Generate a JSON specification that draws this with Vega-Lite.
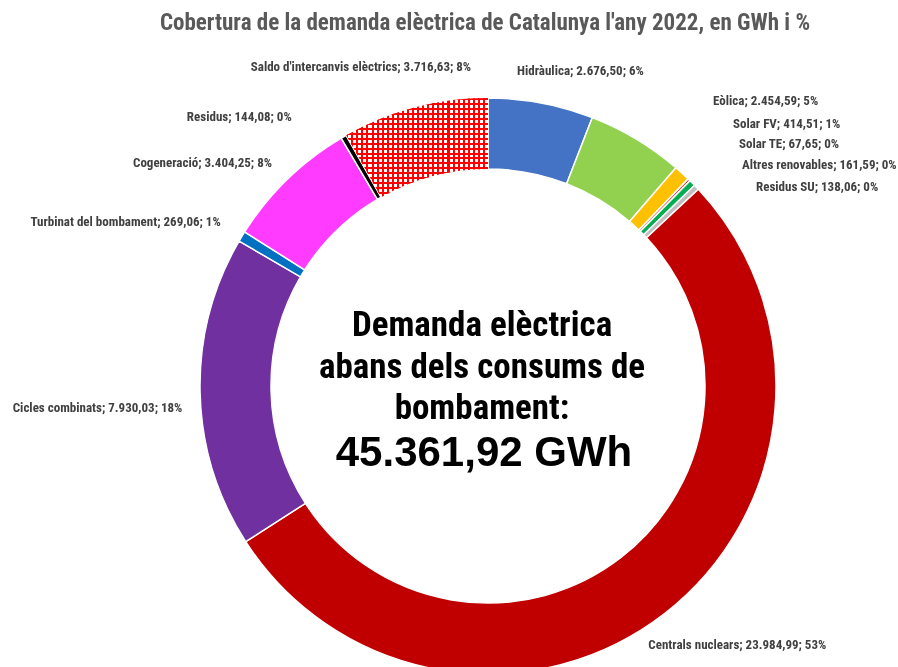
{
  "$schema": "https://vega.github.io/schema/vega-lite/v6.json",
  "autosize": {"type": "none"},
  "width": 600,
  "height": 560,
  "padding": {"left": 188, "top": 106, "right": 110, "bottom": 1},
  "background": "#ffffff",
  "title": {
    "text": "Cobertura de la demanda elèctrica de Catalunya l'any 2022, en GWh i %",
    "frame": "group",
    "offset": -3,
    "anchor": "middle",
    "dx": -3,
    "font": "Roboto Condensed, Roboto, sans-serif",
    "fontSize": 23,
    "fontWeight": "bold",
    "color": "#595959"
  },
  "config": {
    "view": {"stroke": null},
    "text": {
      "font": "Roboto Condensed, Roboto, sans-serif",
      "fontSize": 13,
      "fontWeight": "bold",
      "fill": "#404040",
      "baseline": "middle"
    }
  },
  "layer": [
    {
      "data": {
        "values": [
          {"n": 1, "source": "Hidràulica", "value": 2676.50, "label": "Hidràulica; 2.676,50; 6%"},
          {"n": 2, "source": "Eòlica", "value": 2454.59, "label": "Eòlica; 2.454,59; 5%"},
          {"n": 3, "source": "Solar FV", "value": 414.51, "label": "Solar FV; 414,51; 1%"},
          {"n": 4, "source": "Solar TE", "value": 67.65, "label": "Solar TE; 67,65; 0%"},
          {"n": 5, "source": "Altres renovables", "value": 161.59, "label": "Altres renovables; 161,59; 0%"},
          {"n": 6, "source": "Residus SU", "value": 138.06, "label": "Residus SU; 138,06; 0%"},
          {"n": 7, "source": "Centrals nuclears", "value": 23984.99, "label": "Centrals nuclears; 23.984,99; 53%"},
          {"n": 8, "source": "Cicles combinats", "value": 7930.03, "label": "Cicles combinats; 7.930,03; 18%"},
          {"n": 9, "source": "Turbinat del bombament", "value": 269.06, "label": "Turbinat del bombament; 269,06; 1%"},
          {"n": 10, "source": "Cogeneració", "value": 3404.25, "label": "Cogeneració; 3.404,25; 8%"},
          {"n": 11, "source": "Residus", "value": 144.08, "label": "Residus; 144,08; 0%"},
          {"n": 12, "source": "Saldo d'intercanvis elèctrics", "value": 3716.63, "label": "Saldo d'intercanvis elèctrics; 3.716,63; 8%"}
        ]
      },
      "encoding": {
        "theta": {"field": "value", "type": "quantitative", "stack": true},
        "order": {"field": "n", "type": "quantitative"}
      },
      "layer": [
        {
          "mark": {"type": "arc", "outerRadius": 288, "innerRadius": 217, "stroke": "#ffffff", "strokeWidth": 1.5},
          "encoding": {
            "color": {
              "field": "source",
              "type": "nominal",
              "legend": null,
              "scale": {
                "domain": ["Hidràulica", "Eòlica", "Solar FV", "Solar TE", "Altres renovables", "Residus SU", "Centrals nuclears", "Cicles combinats", "Turbinat del bombament", "Cogeneració", "Residus", "Saldo d'intercanvis elèctrics"],
                "range": ["#4472C4", "#92D050", "#FFC000", "#E8412C", "#00B050", "#BFBFBF", "#C00000", "#7030A0", "#0070C0", "#FF3BFF", "#000000", "#FFFFFF"]
              }
            }
          }
        },
        {
          "mark": {
            "type": "arc", "outerRadius": 288, "innerRadius": 217,
            "fill": {
              "gradient": "linear", "x1": 0, "y1": 0, "x2": 1, "y2": 0,
              "stops": [
                {"offset": 0, "color": "#ff0000"}, {"offset": 0.0143, "color": "#ff0000"}, {"offset": 0.0143, "color": "#ffffff"}, {"offset": 0.0357, "color": "#ffffff"},
                {"offset": 0.0357, "color": "#ff0000"}, {"offset": 0.05, "color": "#ff0000"}, {"offset": 0.05, "color": "#ffffff"}, {"offset": 0.0714, "color": "#ffffff"},
                {"offset": 0.0714, "color": "#ff0000"}, {"offset": 0.0857, "color": "#ff0000"}, {"offset": 0.0857, "color": "#ffffff"}, {"offset": 0.1071, "color": "#ffffff"},
                {"offset": 0.1071, "color": "#ff0000"}, {"offset": 0.1214, "color": "#ff0000"}, {"offset": 0.1214, "color": "#ffffff"}, {"offset": 0.1429, "color": "#ffffff"},
                {"offset": 0.1429, "color": "#ff0000"}, {"offset": 0.1571, "color": "#ff0000"}, {"offset": 0.1571, "color": "#ffffff"}, {"offset": 0.1786, "color": "#ffffff"},
                {"offset": 0.1786, "color": "#ff0000"}, {"offset": 0.1929, "color": "#ff0000"}, {"offset": 0.1929, "color": "#ffffff"}, {"offset": 0.2143, "color": "#ffffff"},
                {"offset": 0.2143, "color": "#ff0000"}, {"offset": 0.2286, "color": "#ff0000"}, {"offset": 0.2286, "color": "#ffffff"}, {"offset": 0.25, "color": "#ffffff"},
                {"offset": 0.25, "color": "#ff0000"}, {"offset": 0.2643, "color": "#ff0000"}, {"offset": 0.2643, "color": "#ffffff"}, {"offset": 0.2857, "color": "#ffffff"},
                {"offset": 0.2857, "color": "#ff0000"}, {"offset": 0.3, "color": "#ff0000"}, {"offset": 0.3, "color": "#ffffff"}, {"offset": 0.3214, "color": "#ffffff"},
                {"offset": 0.3214, "color": "#ff0000"}, {"offset": 0.3357, "color": "#ff0000"}, {"offset": 0.3357, "color": "#ffffff"}, {"offset": 0.3571, "color": "#ffffff"},
                {"offset": 0.3571, "color": "#ff0000"}, {"offset": 0.3714, "color": "#ff0000"}, {"offset": 0.3714, "color": "#ffffff"}, {"offset": 0.3929, "color": "#ffffff"},
                {"offset": 0.3929, "color": "#ff0000"}, {"offset": 0.4071, "color": "#ff0000"}, {"offset": 0.4071, "color": "#ffffff"}, {"offset": 0.4286, "color": "#ffffff"},
                {"offset": 0.4286, "color": "#ff0000"}, {"offset": 0.4429, "color": "#ff0000"}, {"offset": 0.4429, "color": "#ffffff"}, {"offset": 0.4643, "color": "#ffffff"},
                {"offset": 0.4643, "color": "#ff0000"}, {"offset": 0.4786, "color": "#ff0000"}, {"offset": 0.4786, "color": "#ffffff"}, {"offset": 0.5, "color": "#ffffff"},
                {"offset": 0.5, "color": "#ff0000"}, {"offset": 0.5143, "color": "#ff0000"}, {"offset": 0.5143, "color": "#ffffff"}, {"offset": 0.5357, "color": "#ffffff"},
                {"offset": 0.5357, "color": "#ff0000"}, {"offset": 0.55, "color": "#ff0000"}, {"offset": 0.55, "color": "#ffffff"}, {"offset": 0.5714, "color": "#ffffff"},
                {"offset": 0.5714, "color": "#ff0000"}, {"offset": 0.5857, "color": "#ff0000"}, {"offset": 0.5857, "color": "#ffffff"}, {"offset": 0.6071, "color": "#ffffff"},
                {"offset": 0.6071, "color": "#ff0000"}, {"offset": 0.6214, "color": "#ff0000"}, {"offset": 0.6214, "color": "#ffffff"}, {"offset": 0.6429, "color": "#ffffff"},
                {"offset": 0.6429, "color": "#ff0000"}, {"offset": 0.6571, "color": "#ff0000"}, {"offset": 0.6571, "color": "#ffffff"}, {"offset": 0.6786, "color": "#ffffff"},
                {"offset": 0.6786, "color": "#ff0000"}, {"offset": 0.6929, "color": "#ff0000"}, {"offset": 0.6929, "color": "#ffffff"}, {"offset": 0.7143, "color": "#ffffff"},
                {"offset": 0.7143, "color": "#ff0000"}, {"offset": 0.7286, "color": "#ff0000"}, {"offset": 0.7286, "color": "#ffffff"}, {"offset": 0.75, "color": "#ffffff"},
                {"offset": 0.75, "color": "#ff0000"}, {"offset": 0.7643, "color": "#ff0000"}, {"offset": 0.7643, "color": "#ffffff"}, {"offset": 0.7857, "color": "#ffffff"},
                {"offset": 0.7857, "color": "#ff0000"}, {"offset": 0.8, "color": "#ff0000"}, {"offset": 0.8, "color": "#ffffff"}, {"offset": 0.8214, "color": "#ffffff"},
                {"offset": 0.8214, "color": "#ff0000"}, {"offset": 0.8357, "color": "#ff0000"}, {"offset": 0.8357, "color": "#ffffff"}, {"offset": 0.8571, "color": "#ffffff"},
                {"offset": 0.8571, "color": "#ff0000"}, {"offset": 0.8714, "color": "#ff0000"}, {"offset": 0.8714, "color": "#ffffff"}, {"offset": 0.8929, "color": "#ffffff"},
                {"offset": 0.8929, "color": "#ff0000"}, {"offset": 0.9071, "color": "#ff0000"}, {"offset": 0.9071, "color": "#ffffff"}, {"offset": 0.9286, "color": "#ffffff"},
                {"offset": 0.9286, "color": "#ff0000"}, {"offset": 0.9429, "color": "#ff0000"}, {"offset": 0.9429, "color": "#ffffff"}, {"offset": 0.9643, "color": "#ffffff"},
                {"offset": 0.9643, "color": "#ff0000"}, {"offset": 0.9786, "color": "#ff0000"}, {"offset": 0.9786, "color": "#ffffff"}, {"offset": 1, "color": "#ffffff"}
              ]
            }
          },
          "encoding": {
            "opacity": {"condition": {"test": "datum.n == 12", "value": 1}, "value": 0}
          }
        },
        {
          "mark": {
            "type": "arc", "outerRadius": 288, "innerRadius": 217, "blend": "multiply",
            "fill": {
              "gradient": "linear", "x1": 0, "y1": 0, "x2": 0, "y2": 1,
              "stops": [
                {"offset": 0, "color": "#ff0000"}, {"offset": 0.02, "color": "#ff0000"}, {"offset": 0.02, "color": "#ffffff"}, {"offset": 0.05, "color": "#ffffff"},
                {"offset": 0.05, "color": "#ff0000"}, {"offset": 0.07, "color": "#ff0000"}, {"offset": 0.07, "color": "#ffffff"}, {"offset": 0.1, "color": "#ffffff"},
                {"offset": 0.1, "color": "#ff0000"}, {"offset": 0.12, "color": "#ff0000"}, {"offset": 0.12, "color": "#ffffff"}, {"offset": 0.15, "color": "#ffffff"},
                {"offset": 0.15, "color": "#ff0000"}, {"offset": 0.17, "color": "#ff0000"}, {"offset": 0.17, "color": "#ffffff"}, {"offset": 0.2, "color": "#ffffff"},
                {"offset": 0.2, "color": "#ff0000"}, {"offset": 0.22, "color": "#ff0000"}, {"offset": 0.22, "color": "#ffffff"}, {"offset": 0.25, "color": "#ffffff"},
                {"offset": 0.25, "color": "#ff0000"}, {"offset": 0.27, "color": "#ff0000"}, {"offset": 0.27, "color": "#ffffff"}, {"offset": 0.3, "color": "#ffffff"},
                {"offset": 0.3, "color": "#ff0000"}, {"offset": 0.32, "color": "#ff0000"}, {"offset": 0.32, "color": "#ffffff"}, {"offset": 0.35, "color": "#ffffff"},
                {"offset": 0.35, "color": "#ff0000"}, {"offset": 0.37, "color": "#ff0000"}, {"offset": 0.37, "color": "#ffffff"}, {"offset": 0.4, "color": "#ffffff"},
                {"offset": 0.4, "color": "#ff0000"}, {"offset": 0.42, "color": "#ff0000"}, {"offset": 0.42, "color": "#ffffff"}, {"offset": 0.45, "color": "#ffffff"},
                {"offset": 0.45, "color": "#ff0000"}, {"offset": 0.47, "color": "#ff0000"}, {"offset": 0.47, "color": "#ffffff"}, {"offset": 0.5, "color": "#ffffff"},
                {"offset": 0.5, "color": "#ff0000"}, {"offset": 0.52, "color": "#ff0000"}, {"offset": 0.52, "color": "#ffffff"}, {"offset": 0.55, "color": "#ffffff"},
                {"offset": 0.55, "color": "#ff0000"}, {"offset": 0.57, "color": "#ff0000"}, {"offset": 0.57, "color": "#ffffff"}, {"offset": 0.6, "color": "#ffffff"},
                {"offset": 0.6, "color": "#ff0000"}, {"offset": 0.62, "color": "#ff0000"}, {"offset": 0.62, "color": "#ffffff"}, {"offset": 0.65, "color": "#ffffff"},
                {"offset": 0.65, "color": "#ff0000"}, {"offset": 0.67, "color": "#ff0000"}, {"offset": 0.67, "color": "#ffffff"}, {"offset": 0.7, "color": "#ffffff"},
                {"offset": 0.7, "color": "#ff0000"}, {"offset": 0.72, "color": "#ff0000"}, {"offset": 0.72, "color": "#ffffff"}, {"offset": 0.75, "color": "#ffffff"},
                {"offset": 0.75, "color": "#ff0000"}, {"offset": 0.77, "color": "#ff0000"}, {"offset": 0.77, "color": "#ffffff"}, {"offset": 0.8, "color": "#ffffff"},
                {"offset": 0.8, "color": "#ff0000"}, {"offset": 0.82, "color": "#ff0000"}, {"offset": 0.82, "color": "#ffffff"}, {"offset": 0.85, "color": "#ffffff"},
                {"offset": 0.85, "color": "#ff0000"}, {"offset": 0.87, "color": "#ff0000"}, {"offset": 0.87, "color": "#ffffff"}, {"offset": 0.9, "color": "#ffffff"},
                {"offset": 0.9, "color": "#ff0000"}, {"offset": 0.92, "color": "#ff0000"}, {"offset": 0.92, "color": "#ffffff"}, {"offset": 0.95, "color": "#ffffff"},
                {"offset": 0.95, "color": "#ff0000"}, {"offset": 0.97, "color": "#ff0000"}, {"offset": 0.97, "color": "#ffffff"}, {"offset": 1, "color": "#ffffff"}
              ]
            }
          },
          "encoding": {
            "opacity": {"condition": {"test": "datum.n == 12", "value": 1}, "value": 0}
          }
        },
        {"mark": {"type": "text", "radius": 320.8, "dx": -30.1, "align": "left"},
         "encoding": {"text": {"condition": {"test": "datum.n == 1", "field": "label"}, "value": ""}}},
        {"mark": {"type": "text", "radius": 332.8, "dx": 53.7, "align": "left"},
         "encoding": {"text": {"condition": {"test": "datum.n == 2", "field": "label"}, "value": ""}}},
        {"mark": {"type": "text", "radius": 354.2, "dx": 6.3, "align": "left"},
         "encoding": {"text": {"condition": {"test": "datum.n == 3", "field": "label"}, "value": ""}}},
        {"mark": {"type": "text", "radius": 338.0, "dx": 15.0, "align": "left"},
         "encoding": {"text": {"condition": {"test": "datum.n == 4", "field": "label"}, "value": ""}}},
        {"mark": {"type": "text", "radius": 313.6, "dx": 31.5, "align": "left"},
         "encoding": {"text": {"condition": {"test": "datum.n == 5", "field": "label"}, "value": ""}}},
        {"mark": {"type": "text", "radius": 288.8, "dx": 58.9, "align": "left"},
         "encoding": {"text": {"condition": {"test": "datum.n == 6", "field": "label"}, "value": ""}}},
        {"mark": {"type": "text", "radius": 328.2, "dx": -41.3, "align": "left"},
         "encoding": {"text": {"condition": {"test": "datum.n == 7", "field": "label"}, "value": ""}}},
        {"mark": {"type": "text", "radius": 305.7, "dy": 15.6, "align": "right"},
         "encoding": {"text": {"condition": {"test": "datum.n == 8", "field": "label"}, "value": ""}}},
        {"mark": {"type": "text", "radius": 315.2, "dx": 2.1, "align": "right"},
         "encoding": {"text": {"condition": {"test": "datum.n == 9", "field": "label"}, "value": ""}}},
        {"mark": {"type": "text", "radius": 310.8, "dx": 0.5, "align": "right"},
         "encoding": {"text": {"condition": {"test": "datum.n == 10", "field": "label"}, "value": ""}}},
        {"mark": {"type": "text", "radius": 311.2, "dx": -40.4, "align": "right"},
         "encoding": {"text": {"condition": {"test": "datum.n == 11", "field": "label"}, "value": ""}}},
        {"mark": {"type": "text", "radius": 330.2, "dx": -43.0, "align": "center"},
         "encoding": {"text": {"condition": {"test": "datum.n == 12", "field": "label"}, "value": ""}}}
      ]
    },
    {
      "data": {"values": [{"caption": ["Demanda elèctrica", "abans dels consums de", "bombament:"], "total": "45.361,92 GWh"}]},
      "layer": [
        {
          "mark": {"type": "text", "align": "center", "baseline": "middle", "dx": -6, "dy": -61, "lineHeight": 41.5, "fontSize": 35, "fontWeight": "bold", "fill": "#000000", "font": "Roboto Condensed, Roboto, sans-serif"},
          "encoding": {"text": {"field": "caption"}}
        },
        {
          "mark": {"type": "text", "align": "center", "baseline": "middle", "dx": -4, "dy": 67, "fontSize": 42, "fontWeight": "bold", "fill": "#000000", "font": "Liberation Sans, Arial, sans-serif"},
          "encoding": {"text": {"field": "total"}}
        }
      ]
    }
  ]
}
